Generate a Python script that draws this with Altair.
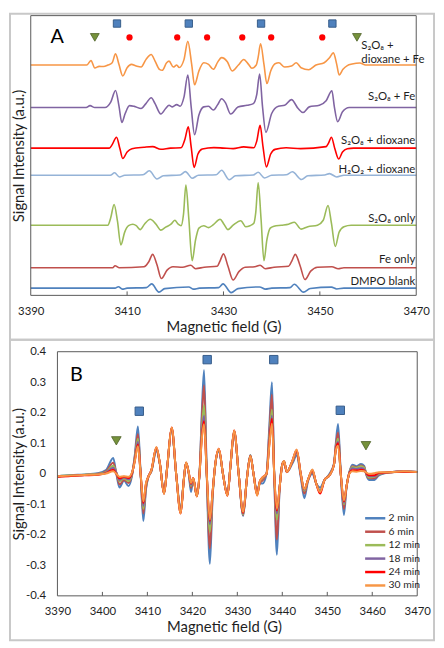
import altair as alt
import pandas as pd

FONT = "Lato"
TXT = "#1f1f1f"
FRAME = "#595959"
BORDER = "#C8C8C8"

# ======================= Panel A : offset EPR spectra =======================
a_names = ["S2O8 + dioxane + Fe", "S2O8 + Fe", "S2O8 + dioxane", "H2O2 + dioxane",
           "S2O8 only", "Fe only", "DMPO blank"]
a_colors = ["#F79646", "#8064A2", "#FF0000", "#95B3D7", "#9BBB59", "#C0504D", "#4F81BD"]
a_offsets = [233, 190, 149, 121.5, 71, 28, 7.3]

a_orange = [(3390, 0), (3401.6, 0), (3402.5, 4.5), (3403.3, -3), (3404.2, -1.3), (3405.1, -1.5),
            (3406.0, 0), (3406.9, 2.3), (3407.6, 11.3), (3408.3, 0.7), (3409.1, -11), (3410.0, -2.7),
            (3410.9, 0.7), (3411.9, -1), (3412.9, -2), (3413.9, 5.5), (3415.0, 10.7), (3415.8, 4),
            (3416.7, -4.3), (3417.3, -5.3), (3418.2, 2.3), (3418.7, 4), (3419.6, -2), (3420.3, 0),
            (3420.8, -2.5), (3421.8, 5.5), (3422.6, 24), (3423.4, 0.7), (3424.0, -20), (3424.9, -6),
            (3425.9, 2.3), (3426.9, 0.7), (3427.9, -4.3), (3428.8, 3), (3429.6, 7.5), (3430.8, 3.3),
            (3431.8, -6), (3433.1, 0), (3434.2, 5.7), (3435.2, 0.7), (3435.9, -3.3), (3436.8, 0),
            (3437.2, 8), (3437.7, 21.5), (3438.4, 0.7), (3439.0, -18.7), (3439.8, -6), (3440.7, 1.3),
            (3441.5, 2.3), (3442.7, -2), (3444.1, -1), (3445.1, 2.3), (3446.1, -2.7), (3447.7, -4.7),
            (3449.2, 0), (3450.9, 2.3), (3452.0, 7.3), (3452.8, 12.3), (3453.5, 0.7), (3454.0, -10),
            (3454.8, -4.3), (3455.7, -0.5), (3456.7, 1), (3458.3, 2), (3459.5, 0), (3470, 0)]

a_purple = [(3390, 0), (3401.5, 0), (3402.3, 2), (3403.3, 0), (3405.4, 0), (3406.6, 5.5), (3407.6, 17.3),
            (3408.3, 2), (3408.9, -15), (3409.6, -6), (3410.5, 2), (3411.5, 1.2), (3412.9, -1), (3413.9, 4),
            (3415.0, 10), (3415.8, 4), (3417.0, -6.5), (3418.0, -1), (3418.7, 2.3), (3419.4, 0.7),
            (3420.3, 3), (3421.0, 1.3), (3421.8, 10.5), (3422.6, 33), (3423.3, 0.5), (3424.0, -27.5),
            (3424.9, -7.5), (3425.9, 0.7), (3426.9, 1.3), (3427.9, -2.5), (3428.8, 3), (3429.6, 9),
            (3430.4, 5), (3431.5, -6.5), (3433.0, 0.5), (3434.9, 2.3), (3436.2, 4), (3436.9, 13),
            (3437.5, 34), (3438.1, 1), (3438.8, -25), (3440.0, -6), (3441.4, 1.3), (3442.7, 2.3),
            (3444.1, 8), (3445.5, -1), (3446.5, -5), (3447.8, 0.7), (3449.9, 2.3), (3451.3, 7),
            (3452.5, 17), (3453.0, 1), (3453.7, -14.3), (3454.7, -4.3), (3456.1, 0), (3470, 0)]

a_red = [(3390, 0), (3406.3, 0), (3406.9, 3.5), (3407.8, 11), (3408.5, -0.5), (3409.1, -10.5), (3410.0, -4),
         (3411.0, -0.7), (3413.5, 0.8), (3415.3, 1.5), (3417.0, -1.2), (3419, 0), (3421.2, 0.3), (3422.0, 9),
         (3422.7, 21.5), (3423.3, 1), (3423.9, -19.5), (3424.7, -6), (3425.6, -1), (3428, 0.5), (3430, 0),
         (3432, -0.5), (3434.2, 1.2), (3436.3, 0.3), (3436.9, 7), (3437.6, 23), (3438.2, 1.5), (3438.9, -19),
         (3439.8, -6), (3440.7, -1.3), (3443, 0.3), (3446, -0.5), (3451.3, 1.5), (3451.8, 5), (3452.4, 11),
         (3453.1, -0.5), (3453.9, -11), (3454.7, -4), (3455.7, -0.7), (3457, 0), (3470, 0)]

a_lightblue = [(3390, 0), (3406.5, 0), (3407.4, 2.5), (3408.4, -1.7), (3409.5, 0), (3413.3, 0.5), (3414.6, 4.5),
               (3416.2, -3.8), (3417.5, -0.5), (3421, 0.3), (3422.1, 3.7), (3423.5, -3), (3424.8, 0),
               (3428.5, 0.5), (3429.6, 5), (3431.2, -4.5), (3432.5, -0.5), (3436.2, 0.3), (3437.2, 3),
               (3438.5, -2.7), (3440, 0), (3443, 0.5), (3444.3, 3.5), (3446.2, -4.3), (3447.5, -0.5),
               (3451, 0.3), (3452, 1.7), (3453.5, -1.7), (3455, 0), (3470, 0)]

a_green = [(3390, 0), (3406.0, 0), (3406.6, 7.5), (3407.3, 21), (3408.0, 4), (3408.7, -20), (3409.5, -7),
           (3410.3, -0.5), (3411.2, 1), (3411.9, -0.5), (3412.7, -4.5), (3413.6, 1), (3414.8, 6), (3416.0, 1),
           (3417.0, -5), (3418.0, -2), (3419.1, 1), (3419.9, 5), (3420.6, 1), (3421.2, -0.5), (3421.7, 11),
           (3422.2, 40.5), (3422.8, 7), (3423.5, -36), (3424.2, -15), (3424.9, -3), (3425.9, -0.5),
           (3426.9, -2.5), (3427.9, 0.5), (3429.3, 6), (3430.1, 1), (3430.9, -4.5), (3432.0, 0), (3433.6, 4.5),
           (3434.6, -1.5), (3435.5, -0.5), (3436.3, 2), (3436.7, 13), (3437.2, 43), (3437.8, 6), (3438.4, -36),
           (3439.0, -15), (3439.7, -3), (3440.5, -1), (3442.0, 0), (3443.5, 1), (3444.7, 3), (3446.1, -4),
           (3447.5, -1.5), (3449.5, 0), (3450.7, 5), (3451.7, 20), (3452.4, 2), (3453.2, -21.5), (3454.0, -7),
           (3455.0, -1.5), (3456.5, 0), (3470, 0)]

a_fe = [(3390, 0), (3407.0, 0), (3407.5, 2), (3408.3, 0), (3413.5, 1), (3414.5, 6), (3415.3, 13.5), (3416.2, 3),
        (3417.1, -11), (3418.3, -2.5), (3419.5, 1), (3421.5, 0.5), (3423.2, 2.5), (3424.2, -1), (3426.0, 0.5),
        (3428.7, 1.5), (3429.3, 7), (3430.0, 14), (3430.9, 2), (3432.0, -12.5), (3433.2, -4), (3434.5, 0.5),
        (3436.5, 1), (3437.6, 2.5), (3438.7, -1), (3440.5, 0.5), (3443.5, 1.5), (3444.2, 7), (3444.9, 13.5),
        (3445.9, 2), (3446.9, -12), (3448.1, -3.5), (3449.5, 0.5), (3452.5, 1), (3453.8, -1), (3455.0, 0),
        (3470, 0)]

a_blank = [(3390, 0), (3407.5, 0), (3408.2, 1.5), (3409.0, -1), (3410.0, 0), (3414.0, 0.5), (3415.1, 4.3),
           (3416.6, -4), (3417.8, -0.5), (3422.8, 1.2), (3423.8, -1), (3425.0, 0), (3429.0, 0.5), (3429.9, 4.3),
           (3431.6, -4.5), (3433.0, -0.5), (3437.5, 1.2), (3438.7, -1), (3440.0, 0), (3443.8, 0.5), (3444.7, 4),
           (3446.6, -4), (3448.0, -0.3), (3452.4, 1), (3453.5, -0.8), (3455.0, 0), (3470, 0)]

a_series = [a_orange, a_purple, a_red, a_lightblue, a_green, a_fe, a_blank]

a_label_text = ["S₂O₈ +", "dioxane + Fe", "S₂O₈ + Fe", "S₂O₈ + dioxane", "H₂O₂ + dioxane", "S₂O₈ only",
                "Fe only", "DMPO blank"]
a_label_y = [252.5, 238.5, 201, 156, 126.5, 77, 36, 13]
a_label_x = [3458.6, 3458.6, 3470, 3470, 3470, 3470, 3470, 3470]
a_label_align = ["left", "left", "right", "right", "right", "right", "right", "right"]

a_square_x = [3407.9, 3422.8, 3437.8, 3452.6]
a_circle_x = [3410.5, 3420.4, 3426.6, 3433.9, 3439.9, 3450.5]
a_triangle_x = [3403.3, 3457.7]
a_tick_x = [3410, 3430, 3450]

# ======================= Panel B : time series of spectra =======================
b_times = ["2 min", "6 min", "12 min", "18 min", "24 min", "30 min"]
b_colors = ["#4F81BD", "#C0504D", "#9BBB59", "#8064A2", "#FF0000", "#F79646"]

b_field = [3390.0, 3393.0, 3396.0, 3399.0, 3400.8, 3402.4, 3403.1, 3403.8, 3404.8, 3405.8,
           3406.6, 3407.2, 3407.9, 3408.5, 3409.1, 3409.7, 3410.2, 3410.9, 3412.0, 3412.8,
           3413.7, 3414.4, 3415.4, 3416.4, 3417.4, 3418.1, 3418.6, 3419.2, 3419.7, 3420.2,
           3421.0, 3421.6, 3422.1, 3422.6, 3423.2, 3423.9, 3424.5, 3425.1, 3425.9, 3426.8,
           3427.8, 3428.5, 3429.3, 3430.3, 3431.3, 3432.1, 3432.9, 3433.6, 3434.4, 3435.0,
           3435.6, 3436.5, 3437.1, 3437.7, 3438.2, 3438.8, 3439.4, 3440.0, 3440.4, 3441.0,
           3442.3, 3443.2, 3444.1, 3444.9, 3445.7, 3446.7, 3447.5, 3448.4, 3449.4, 3450.5,
           3451.5, 3451.9, 3452.4, 3453.0, 3453.7, 3454.3, 3454.9, 3455.6, 3456.5, 3457.5,
           3458.2, 3458.7, 3459.3, 3460.5, 3461.5, 3464.0, 3467.0, 3470.0]

b_2min = [-0.008, -0.004, -0.002, 0.002, 0.012, 0.052, 0.000, -0.045, -0.022, -0.040,
          -0.005, 0.060, 0.155, 0.000, -0.155, -0.050, -0.012, 0.008, 0.075, 0.030,
          -0.062, 0.020, 0.145, 0.000, -0.115, -0.020, 0.035, 0.000, -0.060, -0.018,
          -0.072, 0.000, 0.200, 0.340, 0.000, -0.295, -0.080, 0.030, 0.075, 0.000,
          -0.068, 0.030, 0.135, 0.000, -0.138, -0.020, 0.062, 0.000, -0.058, -0.030,
          -0.032, 0.000, 0.150, 0.300, 0.000, -0.265, -0.050, 0.030, 0.040, 0.005,
          0.035, 0.060, -0.010, -0.080, -0.025, 0.000, -0.030, -0.045, -0.020, 0.000,
          0.035, 0.100, 0.163, 0.000, -0.135, -0.040, 0.005, 0.030, 0.025, 0.032,
          0.026, -0.005, -0.020, -0.020, -0.005, 0.005, 0.008, 0.006]
b_6min = [-0.010, -0.006, -0.004, 0.000, 0.008, 0.036, 0.002, -0.035, -0.020, -0.030,
          -0.002, 0.055, 0.130, 0.000, -0.130, -0.045, -0.010, 0.010, 0.080, 0.030,
          -0.064, 0.020, 0.148, 0.000, -0.122, -0.020, 0.036, 0.002, -0.046, -0.016,
          -0.072, 0.000, 0.175, 0.290, 0.000, -0.245, -0.072, 0.030, 0.078, 0.000,
          -0.070, 0.030, 0.138, 0.000, -0.135, -0.020, 0.060, 0.000, -0.064, -0.030,
          -0.022, 0.000, 0.130, 0.260, 0.000, -0.215, -0.048, 0.030, 0.040, 0.006,
          0.040, 0.068, -0.005, -0.065, -0.022, 0.006, -0.030, -0.055, -0.020, -0.003,
          0.032, 0.092, 0.135, 0.000, -0.115, -0.040, 0.004, 0.025, 0.022, 0.027,
          0.022, -0.003, -0.015, -0.015, -0.002, 0.005, 0.008, 0.006]
b_12min = [-0.008, -0.005, -0.003, -0.001, 0.005, 0.026, 0.004, -0.025, -0.015, -0.024,
           0.000, 0.050, 0.115, 0.000, -0.115, -0.040, -0.010, 0.010, 0.082, 0.032,
           -0.064, 0.020, 0.150, 0.000, -0.125, -0.020, 0.036, 0.003, -0.040, -0.015,
           -0.073, 0.000, 0.145, 0.225, 0.000, -0.190, -0.066, 0.030, 0.080, 0.000,
           -0.070, 0.030, 0.140, 0.000, -0.133, -0.020, 0.060, 0.000, -0.066, -0.028,
           -0.016, 0.000, 0.110, 0.210, 0.000, -0.150, -0.046, 0.030, 0.040, 0.006,
           0.042, 0.072, 0.000, -0.056, -0.020, 0.010, -0.030, -0.056, -0.020, -0.004,
           0.030, 0.086, 0.115, 0.000, -0.100, -0.040, 0.003, 0.022, 0.020, 0.025,
           0.020, 0.000, -0.012, -0.010, 0.000, 0.005, 0.007, 0.006]
b_18min = [-0.008, -0.006, -0.004, -0.002, 0.004, 0.020, 0.004, -0.020, -0.012, -0.018,
           0.002, 0.045, 0.105, 0.000, -0.105, -0.035, -0.010, 0.012, 0.085, 0.032,
           -0.065, 0.020, 0.150, 0.000, -0.128, -0.020, 0.036, 0.003, -0.036, -0.015,
           -0.074, 0.000, 0.128, 0.190, 0.000, -0.165, -0.062, 0.032, 0.080, 0.000,
           -0.070, 0.030, 0.140, 0.000, -0.130, -0.020, 0.058, 0.000, -0.068, -0.026,
           -0.014, 0.000, 0.100, 0.190, 0.000, -0.130, -0.045, 0.030, 0.040, 0.006,
           0.044, 0.075, 0.000, -0.052, -0.020, 0.012, -0.030, -0.060, -0.020, -0.005,
           0.030, 0.082, 0.105, 0.000, -0.095, -0.040, 0.002, 0.018, 0.016, 0.019,
           0.015, 0.000, -0.008, -0.008, 0.002, 0.005, 0.008, 0.006]
b_24min = [-0.010, -0.007, -0.005, -0.003, 0.002, 0.013, 0.000, -0.015, -0.010, -0.014,
           0.003, 0.042, 0.096, 0.000, -0.096, -0.032, -0.010, 0.012, 0.086, 0.032,
           -0.065, 0.020, 0.152, 0.000, -0.130, -0.020, 0.036, 0.004, -0.032, -0.014,
           -0.074, 0.000, 0.118, 0.172, 0.000, -0.155, -0.060, 0.032, 0.082, 0.000,
           -0.072, 0.030, 0.142, 0.000, -0.128, -0.020, 0.058, 0.000, -0.070, -0.025,
           -0.012, 0.000, 0.095, 0.180, 0.000, -0.120, -0.045, 0.030, 0.040, 0.006,
           0.045, 0.078, 0.000, -0.050, -0.020, 0.012, -0.030, -0.065, -0.020, -0.005,
           0.030, 0.080, 0.100, 0.000, -0.090, -0.040, 0.001, 0.012, 0.011, 0.013,
           0.011, 0.002, -0.005, -0.005, 0.003, 0.005, 0.007, 0.006]
b_30min = [-0.008, -0.006, -0.004, -0.002, 0.001, 0.008, 0.000, -0.010, -0.008, -0.010,
           0.005, 0.040, 0.090, 0.000, -0.090, -0.030, -0.010, 0.012, 0.088, 0.032,
           -0.066, 0.020, 0.152, 0.000, -0.130, -0.020, 0.038, 0.004, -0.030, -0.014,
           -0.075, 0.000, 0.112, 0.162, 0.000, -0.150, -0.060, 0.032, 0.082, 0.000,
           -0.072, 0.030, 0.142, 0.000, -0.125, -0.020, 0.058, 0.000, -0.072, -0.025,
           -0.012, 0.000, 0.090, 0.165, 0.000, -0.115, -0.045, 0.030, 0.042, 0.006,
           0.045, 0.080, 0.000, -0.050, -0.020, 0.014, -0.030, -0.060, -0.020, -0.005,
           0.030, 0.078, 0.092, 0.000, -0.087, -0.040, 0.000, 0.008, 0.007, 0.009,
           0.008, 0.004, 0.000, 0.002, 0.005, 0.005, 0.008, 0.006]
b_series = [b_2min, b_6min, b_12min, b_18min, b_24min, b_30min]

b_square_x = [3408.2, 3423.3, 3438.1, 3452.9]
b_square_y = [0.205, 0.374, 0.374, 0.208]
b_triangle_x = [3403.1, 3458.6]
b_triangle_y = [0.108, 0.092]
b_tick_x = [3400, 3410, 3420, 3430, 3440, 3450, 3460]
b_ytick_vals = [-0.4, -0.3, -0.2, -0.1, 0, 0.1, 0.2, 0.3, 0.4]

for s in b_series:
    assert len(s) == len(b_field)

# ---------------------------------------------------------------------------
A_W, A_H = 390, 283
B_W, B_H = 391, 247

dfA = pd.DataFrame([{"series": n, "field": f, "signal": off + d}
                    for n, pts, off in zip(a_names, a_series, a_offsets) for f, d in pts])

xA = alt.Scale(domain=[3390, 3470], nice=False, zero=False)
yA = alt.Scale(domain=[0, A_H], nice=False, zero=False)
axAx = alt.Axis(values=[3390, 3410, 3430, 3450, 3470], format="d", title="Magnetic field (G)",
                domain=False, ticks=False, tickSize=0, grid=False, labelPadding=10, titlePadding=3,
                labelFontSize=11.5, titleFontSize=15, labelFlush=False, labelOverlap=False)
axAy = alt.Axis(title="Signal Intensity (a.u.)", labels=False, domain=False, ticks=False, tickSize=0,
                grid=False, titleX=-4.5, titleFontSize=15)

def xa(field="field"):
    return alt.X(f"{field}:Q", scale=xA, axis=axAx)

def ya(field="signal"):
    return alt.Y(f"{field}:Q", scale=yA, axis=axAy)

linesA = alt.Chart(dfA).mark_line(strokeWidth=1.6, interpolate="monotone").encode(
    x=xa(), y=ya(),
    color=alt.Color("series:N", scale=alt.Scale(domain=a_names, range=a_colors), legend=None),
)

borderA = alt.Chart(pd.DataFrame({"k": [0]})).mark_rect(
    fillOpacity=0, stroke=BORDER, strokeWidth=2).encode(
    x=alt.value(-21), x2=alt.value(408), y=alt.value(-2), y2=alt.value(328))

frameA = alt.Chart(pd.DataFrame({"x0": [3390], "x1": [3470], "y0": [0], "y1": [A_H]})).mark_rect(
    fillOpacity=0, stroke=FRAME, strokeWidth=1).encode(
    x=xa("x0"), x2="x1:Q", y=ya("y0"), y2="y1:Q")

ticksA = alt.Chart(pd.DataFrame({"field": a_tick_x, "y0": [0] * 3, "y1": [4] * 3})).mark_rule(
    color=FRAME, strokeWidth=1).encode(x=xa(), y=ya("y0"), y2="y1:Q")

sqA = alt.Chart(pd.DataFrame({"field": a_square_x, "signal": [275] * len(a_square_x)})).mark_point(
    shape="square", filled=True, size=55, fill="#4F81BD", stroke="#385D8A", strokeWidth=1, opacity=1).encode(
    x=xa(), y=ya())
circA = alt.Chart(pd.DataFrame({"field": a_circle_x, "signal": [261] * len(a_circle_x)})).mark_point(
    shape="circle", filled=True, size=40, fill="#FF0000", opacity=1).encode(x=xa(), y=ya())
triA = alt.Chart(pd.DataFrame({"field": a_triangle_x, "signal": [261] * len(a_triangle_x)})).mark_point(
    shape="triangle-down", filled=True, size=80, fill="#76923C", stroke="#4F6228", strokeWidth=0.8,
    opacity=1).encode(x=xa(), y=ya())

lbl_df = pd.DataFrame({"field": a_label_x, "signal": a_label_y, "t": a_label_text, "al": a_label_align})
lblA_r = alt.Chart(lbl_df[lbl_df.al == "right"]).mark_text(
    align="right", baseline="middle", dx=-1, font=FONT, fontSize=11.5, color=TXT).encode(
    x=xa(), y=ya(), text="t:N")
lblA_l = alt.Chart(lbl_df[lbl_df.al == "left"]).mark_text(
    align="left", baseline="middle", font=FONT, fontSize=11.5, color=TXT).encode(
    x=xa(), y=ya(), text="t:N")
letterA = alt.Chart(pd.DataFrame({"field": [3395.5], "signal": [261], "t": ["A"]})).mark_text(
    align="center", baseline="middle", font=FONT, fontSize=20, color="#000000").encode(
    x=xa(), y=ya(), text="t:N")

panelA = alt.layer(linesA, borderA, frameA, ticksA, sqA, circA, triA, lblA_r, lblA_l, letterA).properties(
    width=A_W, height=A_H)

# ---------------------------------------------------------------------------
xB_left = 3390 - 27 * 80 / 364  # plot frame starts 27 px right of the panel origin
xB = alt.Scale(domain=[xB_left, 3470], nice=False, zero=False)
yB = alt.Scale(domain=[-0.4, 0.4], nice=False, zero=False)
axBx = alt.Axis(values=list(range(3390, 3471, 10)), format="d", title="Magnetic field (G)", domain=False,
                ticks=False, tickSize=0, grid=False, labelPadding=10, titlePadding=3, labelFontSize=11.5,
                titleFontSize=15, labelFlush=False, labelOverlap=False)
axBy = alt.Axis(values=b_ytick_vals, offset=-27, domain=False, ticks=False, tickSize=0, grid=False,
                labelPadding=12, labelFontSize=11.5, labelFlush=False, labelOverlap=False,
                labelExpr="datum.value == 0 ? '0' : (datum.value < 0 ? '-' : '') + format(abs(datum.value), '.1f')",
                title="Signal Intensity (a.u.)", titleX=-31.5, titleFontSize=15)

def xb(field="field"):
    return alt.X(f"{field}:Q", scale=xB, axis=axBx)

def yb(field="signal"):
    return alt.Y(f"{field}:Q", scale=yB, axis=axBy)

dfB = pd.concat([pd.DataFrame({"field": b_field, "signal": vals, "time": [t] * len(b_field)})
                 for t, vals in zip(b_times, b_series)], ignore_index=True)

linesB = alt.Chart(dfB).mark_line(strokeWidth=2, interpolate="monotone").encode(
    x=xb(), y=yb(),
    color=alt.Color("time:N", scale=alt.Scale(domain=b_times, range=b_colors), sort=b_times,
                    legend=alt.Legend(title=None, orient="none", legendX=341, legendY=161,
                                      symbolType="M-1.7,0H1.7", symbolSize=144, symbolStrokeWidth=2.5,
                                      labelFont=FONT, labelFontSize=10.5, labelColor=TXT,
                                      rowPadding=0.6, labelOffset=6, padding=0)),
)

borderB = alt.Chart(pd.DataFrame({"k": [0]})).mark_rect(
    fillOpacity=0, stroke=BORDER, strokeWidth=2).encode(
    x=alt.value(-21), x2=alt.value(408), y=alt.value(-12), y2=alt.value(292))

frameB = alt.Chart(pd.DataFrame({"x0": [3390], "x1": [3470], "y0": [-0.4], "y1": [0.4]})).mark_rect(
    fillOpacity=0, stroke=FRAME, strokeWidth=1).encode(
    x=xb("x0"), x2="x1:Q", y=yb("y0"), y2="y1:Q")

ticksB = alt.Chart(pd.DataFrame({"field": b_tick_x, "y0": [-0.4] * 7, "y1": [-0.387] * 7})).mark_rule(
    color=FRAME, strokeWidth=1).encode(x=xb(), y=yb("y0"), y2="y1:Q")

sqB = alt.Chart(pd.DataFrame({"field": b_square_x, "signal": b_square_y})).mark_point(
    shape="square", filled=True, size=72, fill="#4F81BD", stroke="#385D8A", strokeWidth=1, opacity=1).encode(
    x=xb(), y=yb())
triB = alt.Chart(pd.DataFrame({"field": b_triangle_x, "signal": b_triangle_y})).mark_point(
    shape="triangle-down", filled=True, size=95, fill="#76923C", stroke="#4F6228", strokeWidth=0.8,
    opacity=1).encode(x=xb(), y=yb())
letterB = alt.Chart(pd.DataFrame({"field": [3394.2], "signal": [0.325], "t": ["B"]})).mark_text(
    align="center", baseline="middle", font=FONT, fontSize=20, color="#000000").encode(
    x=xb(), y=yb(), text="t:N")

panelB = alt.layer(linesB, borderB, frameB, ticksB, sqB, triB, letterB).properties(
    width=B_W, height=B_H)

chart = alt.vconcat(panelA, panelB, spacing=57, bounds="flush").resolve_scale(
    color="independent").resolve_legend(color="independent").properties(
    padding={"left": 0, "top": 0, "right": 0, "bottom": 0}, background="white"
).configure_view(stroke="transparent").configure_axis(
    labelFont=FONT, titleFont=FONT, labelColor=TXT, titleColor=TXT, titleFontWeight="normal"
)

chart.save("out.html", embed_options={"renderer": "svg", "actions": False})
